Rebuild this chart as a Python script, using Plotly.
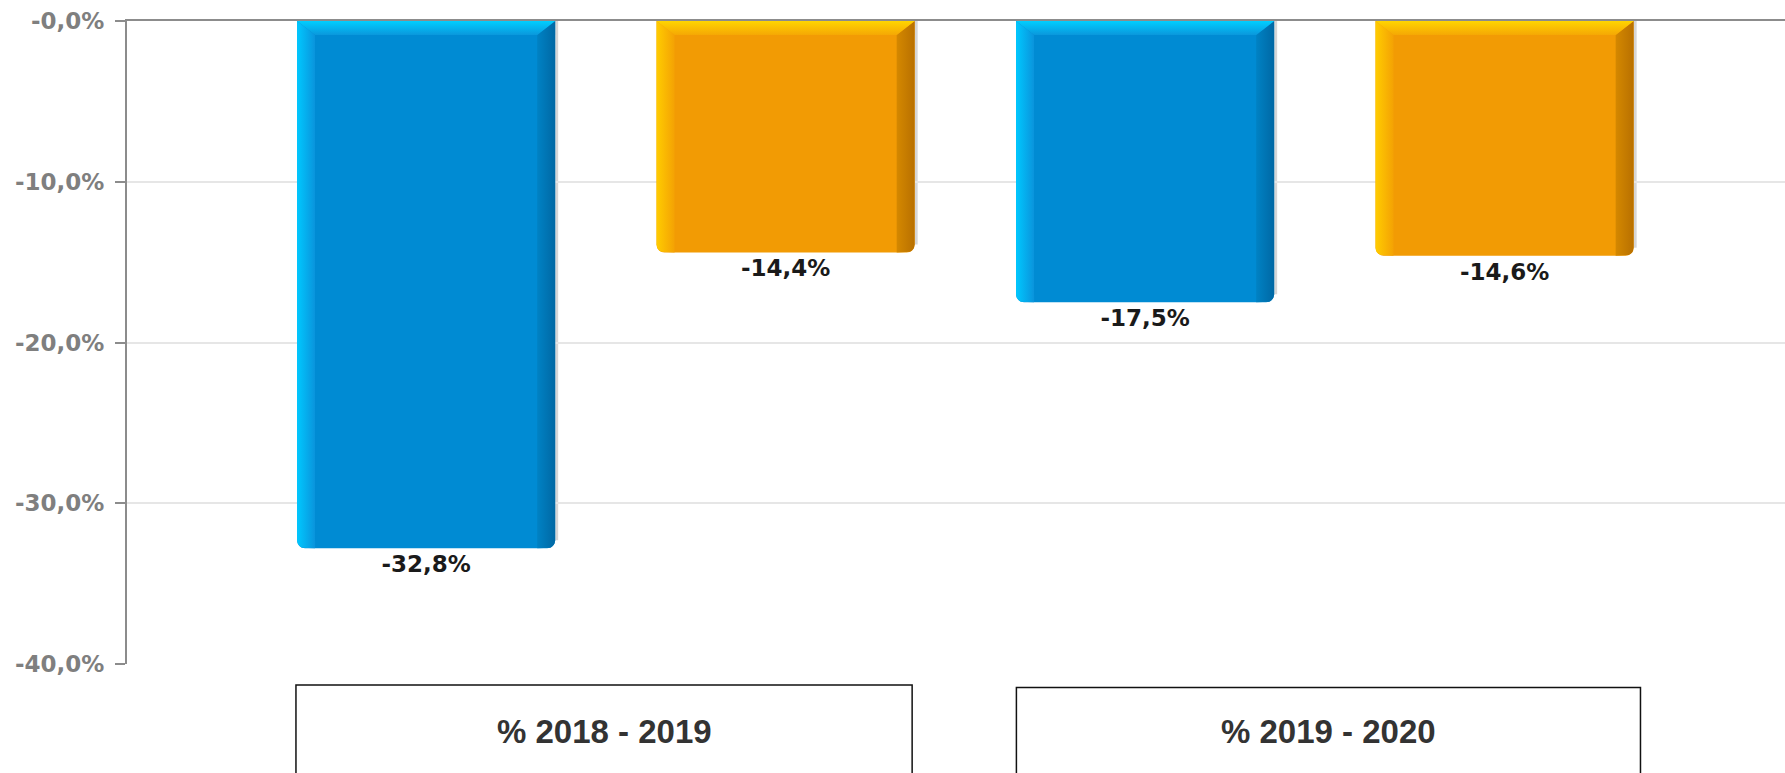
import math
import plotly.graph_objects as go

# ---- data ----
categories = ["% 2018 - 2019", "% 2019 - 2020"]
series_blue = [-32.8, -17.5]
series_orange = [-14.4, -14.6]
tick_values = [0, -10, -20, -30, -40]
tick_labels = ["-0,0%", "-10,0%", "-20,0%", "-30,0%", "-40,0%"]

# ---- geometry / style ----
W, H = 1785, 773
M_L, M_R, M_T, M_B = 127, 0, 21, 109
X_RANGE = [-0.666, 1.640]
Y_RANGE = [-40, 0]
plot_w = W - M_L - M_R
plot_h = H - M_T - M_B
px_x = plot_w / (X_RANGE[1] - X_RANGE[0])   # pixels per category unit
px_y = plot_h / (Y_RANGE[1] - Y_RANGE[0])   # pixels per percent

BAR_W = 0.359
OFFSETS = [-0.25, 0.25]
SIDE = 18 / px_x        # bevel width of side strips
TOP = 14 / px_y         # bevel height of top strip
RAD = 8                 # bottom corner radius (px)

# label boxes: horizontal extent around each category and top edge (px)
BOX_SPAN = [(-0.431, 0.426), (-0.429, 0.439)]
BOX_TOP_PX = [685, 687.5]

palettes = [
    dict(main="#008bd3", left=["#00c8ff", "#0a94dc"], top=["#00ceff", "#0a98dc"],
         right=["#0082c4", "#0068a4"]),
    dict(main="#f29b04", left=["#ffcc00", "#f4a204"], top=["#ffd500", "#f5a804"],
         right=["#d48800", "#b87000"]),
]


def fmt(v):
    return f"{v:.1f}%".replace(".", ",")


fig = go.Figure()

series = [series_blue, series_orange]
for s, values in enumerate(series):
    xs = [i + OFFSETS[s] for i in range(len(categories))]
    fig.add_trace(go.Bar(
        x=xs, y=values, width=BAR_W,
        marker=dict(color=palettes[s]["main"], line=dict(width=0), cornerradius=RAD),
        text=[fmt(v) for v in values], textposition="outside",
        textfont=dict(family="DejaVu Sans", size=23, color="#1a1a1a", weight="bold"),
        cliponaxis=False, showlegend=False, hoverinfo="skip",
    ))


def arc(cx, cy, a0, a1, n=8):
    rx, ry = RAD / px_x, RAD / px_y
    pts = []
    for k in range(n + 1):
        a = math.radians(a0 + (a1 - a0) * k / n)
        pts.append((cx + rx * math.cos(a), cy + ry * math.sin(a)))
    return pts


def add_fill(pts, grad_type, colors, start=None, stop=None):
    xs = [p[0] for p in pts] + [pts[0][0]]
    ys = [p[1] for p in pts] + [pts[0][1]]
    grad = dict(type=grad_type, colorscale=[[0, colors[0]], [1, colors[1]]])
    if start is not None:
        grad["start"] = start
        grad["stop"] = stop
    fig.add_trace(go.Scatter(
        x=xs, y=ys, mode="lines", fill="toself", line=dict(width=0),
        fillgradient=grad, showlegend=False, hoverinfo="skip",
    ))


# bevelled edges on every bar
rx, ry = RAD / px_x, RAD / px_y
for s, values in enumerate(series):
    pal = palettes[s]
    for i, v in enumerate(values):
        xc = i + OFFSETS[s]
        x0, x1 = xc - BAR_W / 2, xc + BAR_W / 2
        # soft shadow on the right side
        fig.add_shape(type="rect", xref="x", yref="y", x0=x1, x1=x1 + 3 / px_x,
                      y0=0, y1=v + ry, fillcolor="#d6d6d6", line_width=0, layer="below")
        # left strip
        pts = [(x0, 0), (x0 + SIDE, -TOP), (x0 + SIDE, v)]
        pts += arc(x0 + rx, v + ry, -90, -180)
        add_fill(pts, "horizontal", pal["left"], x0, x0 + SIDE)
        # right strip
        pts = [(x1, 0), (x1 - SIDE, -TOP), (x1 - SIDE, v)]
        pts += arc(x1 - rx, v + ry, -90, 0)
        add_fill(pts, "horizontal", pal["right"], x1 - SIDE, x1)
        # top strip
        pts = [(x0, 0), (x1, 0), (x1 - SIDE, -TOP), (x0 + SIDE, -TOP)]
        add_fill(pts, "vertical", pal["top"], 0, -TOP)

# category boxes below the plot
for i, name in enumerate(categories):
    top = -(BOX_TOP_PX[i] - (H - M_B)) / plot_h
    fig.add_shape(type="rect", xref="x", yref="paper",
                  x0=i + BOX_SPAN[i][0], x1=i + BOX_SPAN[i][1], y0=-0.5, y1=top,
                  line=dict(color="#111111", width=1.5), fillcolor="rgba(0,0,0,0)")
    fig.add_annotation(x=i + sum(BOX_SPAN[i]) / 2, xref="x",
                       y=-(731 - (H - M_B)) / plot_h, yref="paper",
                       text=name, showarrow=False, xanchor="center", yanchor="middle",
                       font=dict(family="Liberation Sans Narrow, Liberation Sans, Arial",
                                 size=33, color="#333333", weight="bold"))

fig.update_layout(
    width=W, height=H,
    margin=dict(l=M_L, r=M_R, t=M_T, b=M_B, pad=0),
    paper_bgcolor="white", plot_bgcolor="white",
    barmode="overlay",
    xaxis=dict(range=X_RANGE, showgrid=False, zeroline=False, showticklabels=False,
               showline=True, side="top", linecolor="#8c8c8c", linewidth=2, ticks=""),
    yaxis=dict(range=Y_RANGE, tickvals=tick_values, ticktext=tick_labels,
               showgrid=True, gridcolor="#e6e6e6", gridwidth=1.5, zeroline=False,
               showline=True, linecolor="#8c8c8c", linewidth=2,
               ticks="outside", ticklen=10, tickwidth=2, tickcolor="#8c8c8c",
               ticklabelstandoff=6,
               tickfont=dict(family="DejaVu Sans", size=23, color="#7f7f7f", weight="bold")),
)

fig.write_html("out.html")
